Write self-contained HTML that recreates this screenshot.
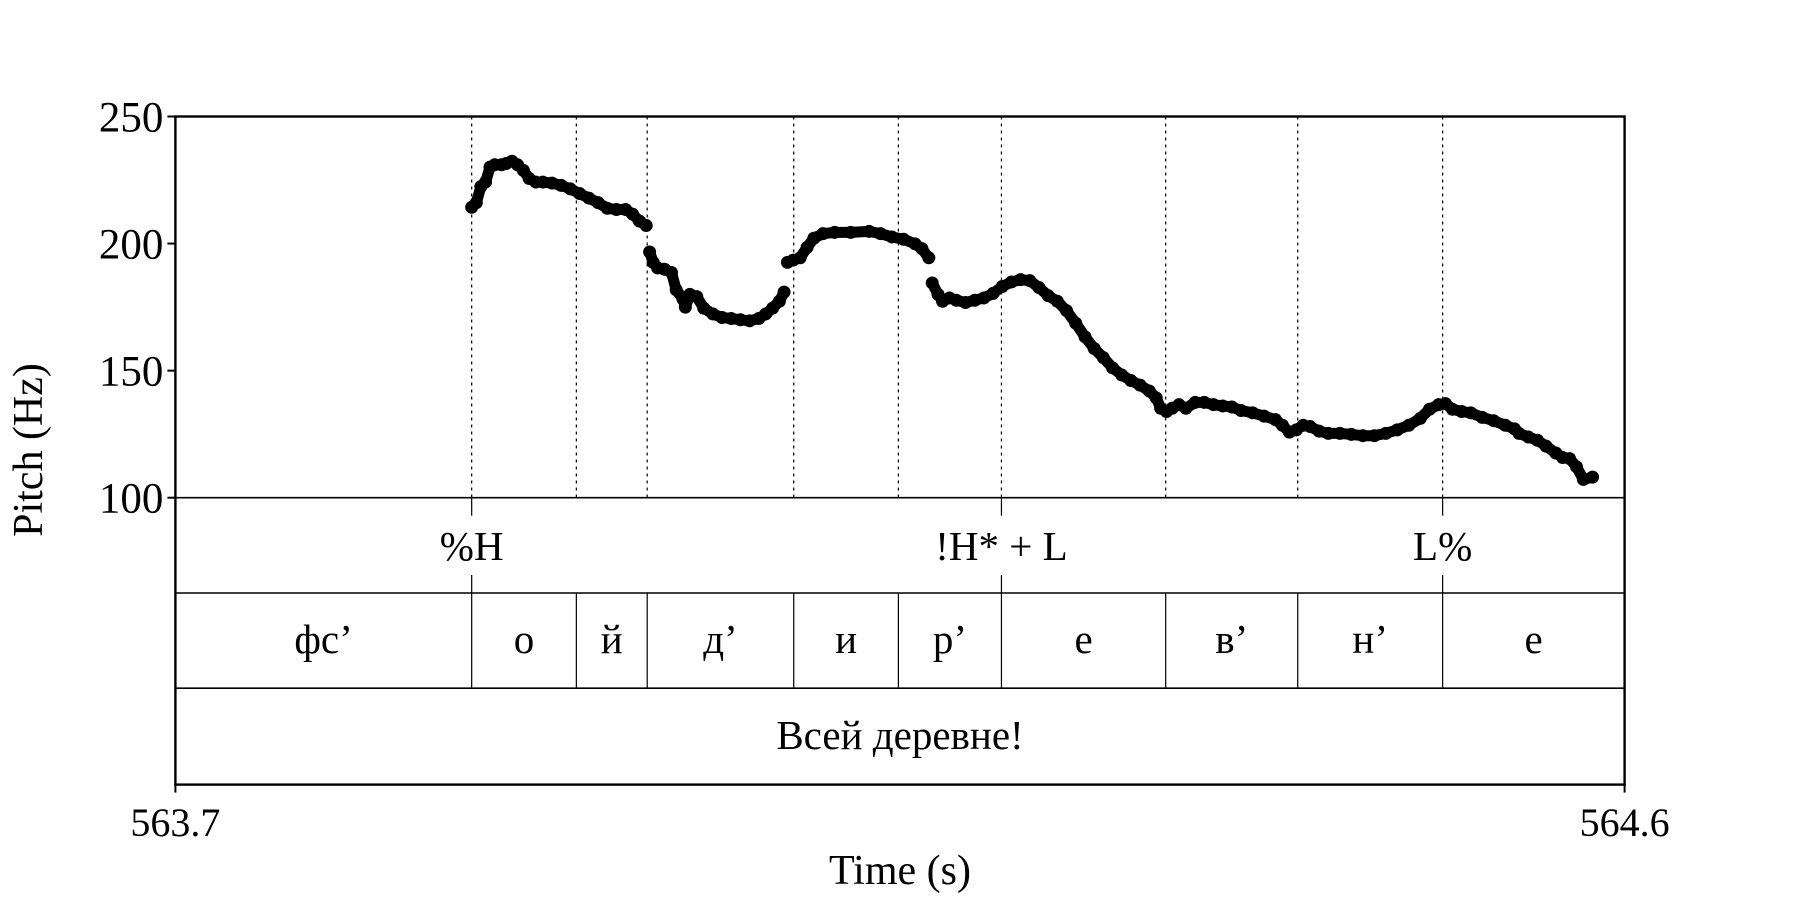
<!DOCTYPE html>
<html><head><meta charset="utf-8">
<style>
html,body{margin:0;padding:0;background:#fff;}
svg{display:block;font-family:"Liberation Serif","DejaVu Serif",serif;}
</style></head>
<body>
<svg id="chart" width="1800" height="900" viewBox="0 0 1800 900" xmlns="http://www.w3.org/2000/svg">
<g id="frame"></g>
<g id="bounds"></g>
<g id="pitch"></g>
<g id="labels"></g>
</svg>
<script>
const yTicks=[250,200,150,100];
const xTickLabels=["563.7","564.6"];
const xDomain=[563.7,564.6];
const yDomain=[100,250];
const boundaries=[563.884,563.949,563.993,564.084,564.149,564.213,564.315,564.397,564.487];
const toneTimes=[563.884,564.213,564.487];
const toneLabels=["%H","!H* + L","L%"];
const segEdges=[563.7,563.884,563.949,563.993,564.084,564.149,564.213,564.315,564.397,564.487,564.6];
const segLabels=["фс’","о","й","д’","и","р’","е","в’","н’","е"];
const wordLabel="Всей деревне!";
const pitchMs=[184.0,186.9,189.7,192.6,195.4,198.3,202.5,205.4,209.0,212.5,216.1,219.7,223.9,228.2,233.9,239.6,245.3,251.0,256.8,262.5,268.2,273.9,279.6,283.9,288.1,292.4,
294.5,296.7,299.5,303.8,308.1,311.0,315.2,316.7,319.5,323.8,328.1,333.8,339.5,345.2,350.9,356.6,362.3,366.6,370.9,375.1,378.0,
380.1,383.7,388.0,392.3,396.5,402.2,409.4,419.4,430.8,437.9,445.0,452.2,459.3,463.6,467.9,
470.0,473.6,476.4,480.7,485.0,490.7,496.4,502.1,507.8,513.5,519.2,524.9,530.6,536.3,542.0,547.7,553.4,559.1,564.9,570.6,576.3,582.0,587.7,593.4,599.1,604.8,609.1,611.9,615.5,619.0,623.3,627.6,633.3,639.0,644.7,650.4,656.1,661.8,669.0,676.1,683.2,687.5,691.8,696.1,700.4,704.7,710.3,716.0,723.2,730.3,737.5,744.6,751.7,758.8,766.0,773.1,778.8,784.5,788.8,793.1,798.8,804.5,811.6,818.7,825.9,831.6,834.4,840.2,845.9,851.2,857.3,861.5,865.8,870.1,874.4,880.1];
const pitchHz=[214.3,216.1,222.4,224.2,230.1,231.0,231.0,231.5,232.4,231.0,228.8,225.6,224.2,224.2,223.8,222.9,221.5,219.7,217.9,216.1,213.9,213.4,213.4,211.6,208.9,207.1,
196.7,192.6,190.4,189.9,188.6,181.8,178.2,175.0,180.0,179.1,174.6,172.3,170.9,170.5,170.0,169.6,170.5,172.3,174.6,177.3,180.9,
192.6,193.5,194.4,198.5,202.1,203.9,204.4,204.4,204.8,203.9,202.6,201.7,199.9,198.0,194.4,
184.5,180.0,177.3,178.6,177.7,176.8,177.7,178.6,180.4,183.1,184.9,185.8,185.4,182.7,179.5,177.3,173.6,168.7,163.3,158.7,155.1,151.1,148.3,146.1,144.3,142.0,139.3,135.2,133.9,135.2,136.6,135.2,137.5,137.5,136.6,136.1,135.7,134.3,133.4,132.1,130.7,128.5,125.8,126.7,128.5,128.0,126.2,125.3,125.3,124.9,124.4,124.4,125.3,126.7,128.5,131.2,134.8,136.6,137.0,134.8,133.9,133.4,131.6,130.3,128.5,127.1,125.3,123.9,122.6,120.3,117.6,115.8,115.4,112.2,107.2,108.1];

const L=175.4,R=1624.6,T=116.5,Y100=497.7,T1=593,T2=688.2,B=784.6;
const NS="http://www.w3.org/2000/svg";
const xs=t=>L+(t-xDomain[0])/(xDomain[1]-xDomain[0])*(R-L);
const ys=v=>Y100-(v-yDomain[0])/(yDomain[1]-yDomain[0])*(Y100-T);
function mk(tag,attrs,parent){const e=document.createElementNS(NS,tag);for(const k in attrs)e.setAttribute(k,attrs[k]);parent.appendChild(e);return e;}
const frame=document.getElementById('frame'),bounds=document.getElementById('bounds'),pitch=document.getElementById('pitch'),labels=document.getElementById('labels');

let e=mk('rect',{x:L,y:T,width:R-L,height:B-T,fill:'none',stroke:'#000','stroke-width':2.4},frame);

[Y100,T1,T2].forEach(y=>{const l=mk('line',{x1:L,x2:R,y1:y,y2:y,stroke:'#000','stroke-width':1.6},frame);
});

yTicks.forEach(v=>{const y=ys(v);
const t=mk('line',{x1:L-8,x2:L,y1:y,y2:y,stroke:'#000','stroke-width':2},frame);

const tx=mk('text',{x:L-12,y:y+15,'font-size':43,'text-anchor':'end'},labels);tx.textContent=v;
});
xDomain.forEach((d,i)=>{const x=xs(d);
const t=mk('line',{x1:x,x2:x,y1:B,y2:B+8,stroke:'#000','stroke-width':2},frame);

const tx=mk('text',{x:x,y:836,'font-size':40,'text-anchor':'middle'},labels);tx.textContent=xTickLabels[i];
});

boundaries.forEach(b=>{const x=xs(b);
const d=mk('line',{x1:x,x2:x,y1:T,y2:Y100,stroke:'#000','stroke-width':1.2,'stroke-dasharray':'3,4'},bounds);

const s=mk('line',{x1:x,x2:x,y1:T1,y2:T2,stroke:'#000','stroke-width':1.2},bounds);
});
toneTimes.forEach((tt,i)=>{const x=xs(tt);
const a=mk('line',{x1:x,x2:x,y1:Y100,y2:Y100+18,stroke:'#000','stroke-width':1.2},bounds);

const b=mk('line',{x1:x,x2:x,y1:T1-18,y2:T1,stroke:'#000','stroke-width':1.2},bounds);

const tx=mk('text',{x:x,y:560,'font-size':41,'text-anchor':'middle'},labels);tx.textContent=toneLabels[i];
});
segLabels.forEach((s,i)=>{const x=(xs(segEdges[i])+xs(segEdges[i+1]))/2;
const tx=mk('text',{x:x,y:653,'font-size':41,'text-anchor':'middle'},labels);tx.textContent=s;
});
e=mk('text',{x:(L+R)/2,y:749,'font-size':41,'text-anchor':'middle'},labels);e.textContent=wordLabel;


e=mk('text',{x:(L+R)/2,y:884,'font-size':42,'text-anchor':'middle'},labels);e.textContent='Time (s)';

e=mk('text',{x:0,y:0,'font-size':42,'text-anchor':'middle',transform:'translate(42,450) rotate(-90)'},labels);e.textContent='Pitch (Hz)';


for(let i=0;i<pitchMs.length;i++){
  const t=xDomain[0]+pitchMs[i]/1000;
  if(i>0){const dt=pitchMs[i]-pitchMs[i-1],dh=Math.abs(pitchHz[i]-pitchHz[i-1]);
    if(dt<16&&dh<8){const ln=mk('line',{x1:xs(xDomain[0]+pitchMs[i-1]/1000),y1:ys(pitchHz[i-1]),x2:xs(t),y2:ys(pitchHz[i]),stroke:'#000','stroke-width':11,'stroke-linecap':'round'},pitch);
      }}
  const c=mk('circle',{cx:xs(t),cy:ys(pitchHz[i]),r:6.5,fill:'#000'},pitch);
  
}
</script>
</body></html>
